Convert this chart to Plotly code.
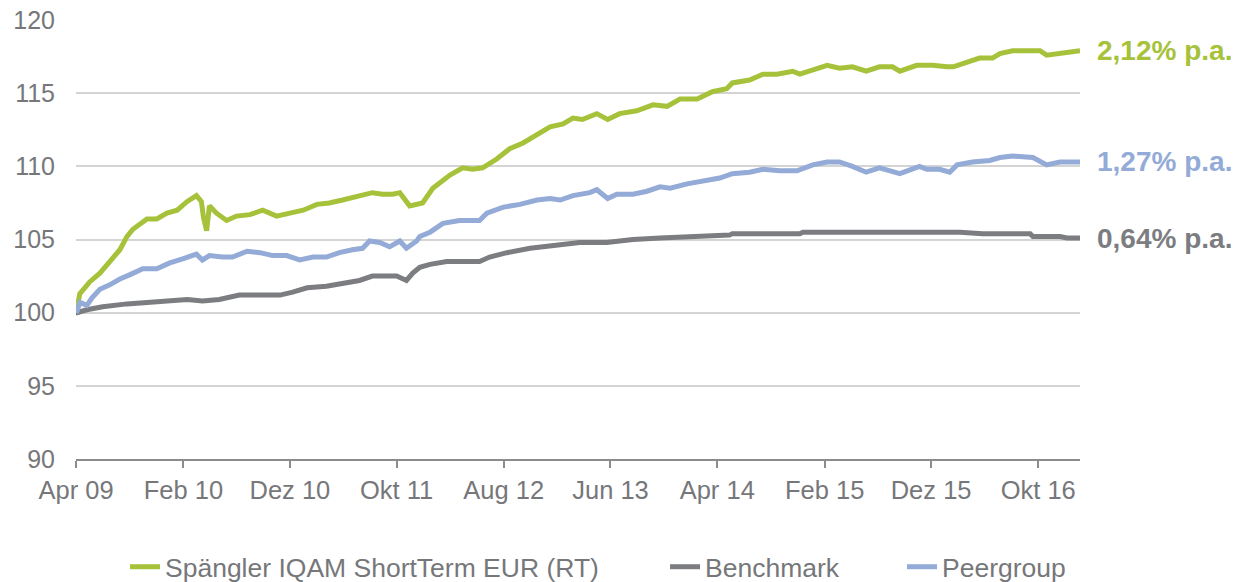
import plotly.graph_objects as go

# ---------------- data ----------------
fund_dates = ["2009-04-01","2009-04-12","2009-04-26","2009-05-10","2009-06-08","2009-07-06","2009-08-04","2009-08-24",
    "2009-09-10","2009-10-20","2009-11-17","2009-12-16","2010-01-14","2010-02-12","2010-03-10","2010-03-24","2010-03-30",
    "2010-04-08","2010-04-16","2010-05-06","2010-06-04","2010-07-02","2010-08-09","2010-09-15","2010-10-24","2010-12-01",
    "2011-01-08","2011-02-16","2011-03-23","2011-04-30","2011-06-17","2011-07-24","2011-08-22","2011-09-20","2011-10-10",
    "2011-10-24","2011-11-07","2011-12-14","2012-01-12","2012-03-01","2012-04-06","2012-05-04","2012-06-02","2012-07-12",
    "2012-08-18","2012-09-25","2012-11-04","2012-12-11","2013-01-17","2013-02-14","2013-03-13","2013-04-23","2013-05-24",
    "2013-06-27","2013-08-15","2013-09-30","2013-11-09","2013-12-16","2014-02-03","2014-03-18","2014-04-28","2014-05-14",
    "2014-07-02","2014-08-09","2014-09-18","2014-11-02","2014-11-22","2014-12-29","2015-02-08","2015-03-15","2015-04-21",
    "2015-05-30","2015-07-07","2015-08-13","2015-09-03","2015-10-21","2015-12-06","2016-01-15","2016-02-02","2016-03-11",
    "2016-04-17","2016-05-24","2016-06-14","2016-07-20","2016-10-06","2016-10-25","2016-12-02","2016-12-30","2017-01-28"]
fund_values = [100.0,101.3,101.7,102.1,102.7,103.5,104.3,105.2,
    105.7,106.4,106.4,106.8,107.0,107.6,108.0,107.6,106.5,
    105.6,107.3,106.8,106.3,106.6,106.7,107.0,106.6,106.8,
    107.0,107.4,107.5,107.7,108.0,108.2,108.1,108.1,108.2,
    107.7,107.3,107.5,108.5,109.4,109.9,109.8,109.9,110.5,
    111.2,111.6,112.2,112.7,112.9,113.3,113.2,113.6,113.2,
    113.6,113.8,114.2,114.1,114.6,114.6,115.1,115.3,115.7,
    115.9,116.3,116.3,116.5,116.3,116.6,116.9,116.7,116.8,
    116.5,116.8,116.8,116.5,116.9,116.9,116.8,116.8,117.1,
    117.4,117.4,117.7,117.9,117.9,117.6,117.7,117.8,117.9]

bench_dates = ["2009-04-01","2009-04-04","2009-05-02","2009-06-16","2009-08-24","2009-10-20","2009-12-16","2010-02-12",
    "2010-03-27","2010-05-14","2010-07-10","2010-09-07","2010-11-03","2010-12-09","2011-01-19","2011-03-15","2011-05-11",
    "2011-06-17","2011-07-24","2011-09-03","2011-10-01","2011-10-29","2011-11-16","2011-12-06","2012-01-04","2012-02-21",
    "2012-05-24","2012-06-22","2012-08-10","2012-10-15","2012-12-19","2013-03-05","2013-05-21","2013-08-04","2013-10-20",
    "2014-01-05","2014-03-18","2014-05-06","2014-05-14","2014-11-22","2014-12-01","2016-02-21","2016-04-26","2016-09-08",
    "2016-09-16","2016-12-02","2016-12-22","2017-01-28"]
bench_values = [100.0,100.0,100.2,100.4,100.6,100.7,100.8,100.9,
    100.8,100.9,101.2,101.2,101.2,101.4,101.7,101.8,102.0,
    102.2,102.5,102.5,102.5,102.2,102.7,103.1,103.3,103.5,
    103.5,103.8,104.1,104.4,104.6,104.8,104.8,105.0,105.1,
    105.2,105.3,105.3,105.4,105.4,105.5,105.5,105.4,105.4,
    105.2,105.2,105.1,105.1]

peer_dates = ["2009-04-01","2009-04-04","2009-04-12","2009-05-02","2009-05-16","2009-06-08","2009-07-06","2009-08-04",
    "2009-09-02","2009-10-08","2009-11-17","2009-12-24","2010-02-01","2010-03-10","2010-03-27","2010-04-16","2010-05-23",
    "2010-06-21","2010-08-01","2010-09-07","2010-10-13","2010-11-22","2010-12-29","2011-02-05","2011-03-15","2011-04-21",
    "2011-05-28","2011-06-26","2011-07-16","2011-08-14","2011-09-11","2011-10-01","2011-10-10","2011-10-29","2011-11-16",
    "2011-11-27","2011-12-06","2012-01-04","2012-02-10","2012-03-28","2012-05-24","2012-06-14","2012-07-29","2012-09-16",
    "2012-11-04","2012-12-11","2013-01-09","2013-02-14","2013-04-03","2013-04-23","2013-05-24","2013-06-19","2013-08-04",
    "2013-09-13","2013-10-20","2013-11-18","2014-01-05","2014-02-19","2014-03-30","2014-04-08","2014-05-14","2014-07-02",
    "2014-08-09","2014-09-26","2014-11-14","2014-12-29","2015-02-08","2015-03-15","2015-04-21","2015-05-30","2015-07-07",
    "2015-08-05","2015-09-03","2015-10-29","2015-11-19","2015-12-25","2016-01-23","2016-02-13","2016-03-28","2016-05-16",
    "2016-06-14","2016-07-20","2016-09-16","2016-10-25","2016-12-02","2017-01-28"]
peer_values = [100.0,100.1,100.7,100.5,101.0,101.6,101.9,102.3,
    102.6,103.0,103.0,103.4,103.7,104.0,103.6,103.9,103.8,
    103.8,104.2,104.1,103.9,103.9,103.6,103.8,103.8,104.1,
    104.3,104.4,104.9,104.8,104.5,104.8,104.9,104.4,104.7,
    104.9,105.2,105.5,106.1,106.3,106.3,106.8,107.2,107.4,
    107.7,107.8,107.7,108.0,108.2,108.4,107.8,108.1,108.1,
    108.3,108.6,108.5,108.8,109.0,109.1,109.2,109.5,109.6,
    109.8,109.7,109.7,110.1,110.3,110.3,110.0,109.6,109.9,
    109.7,109.5,110.0,109.8,109.8,109.6,110.1,110.3,110.4,
    110.6,110.7,110.6,110.1,110.3,110.3]

series_names = ["Spängler IQAM ShortTerm EUR (RT)", "Benchmark", "Peergroup"]
pa_labels = ["2,12% p.a.", "0,64% p.a.", "1,27% p.a."]

tick_dates = ["2009-04-01","2010-02-01","2010-12-01","2011-10-01","2012-08-01",
              "2013-06-01","2014-04-01","2015-02-01","2015-12-01","2016-10-01"]
tick_labels = ["Apr 09","Feb 10","Dez 10","Okt 11","Aug 12","Jun 13","Apr 14","Feb 15","Dez 15","Okt 16"]
y_ticks = [90, 95, 100, 105, 110, 115, 120]

# ---------------- style ----------------
GREEN = "#A6C23B"
GRAY = "#7B7D81"
BLUE = "#93ABD6"
TEXT = "#76777A"
FONT = "Liberation Sans, Arial, sans-serif"
legend_x = [0.0488, 0.5867, 0.8227]
legend_ids = ["legend", "legend2", "legend3"]

fig = go.Figure()
data = [(fund_dates, fund_values, GREEN), (bench_dates, bench_values, GRAY), (peer_dates, peer_values, BLUE)]
for (d, v, c), name, lid in zip(data, series_names, legend_ids):
    fig.add_trace(go.Scatter(x=d, y=v, mode="lines", name=name, legend=lid,
                             line=dict(color=c, width=5)))

for (d, v, c), lab in zip(data, pa_labels):
    fig.add_annotation(x=1.0149, xref="paper", y=v[-1], yref="y", text="<b>%s</b>" % lab,
                       showarrow=False, xanchor="left", yanchor="middle",
                       font=dict(family=FONT, size=28, color=c))

leg_common = dict(orientation="h", xanchor="left", y=-0.246, yanchor="middle",
                  font=dict(family=FONT, size=26.5, color=TEXT), bgcolor="rgba(0,0,0,0)",
                  borderwidth=0)
fig.update_layout(
    width=1240, height=582,
    margin=dict(l=76, r=160, t=20, b=123, autoexpand=False),
    plot_bgcolor="white", paper_bgcolor="white",
    font=dict(family=FONT, size=25, color=TEXT),
    showlegend=True,
    legend=dict(x=legend_x[0], **leg_common),
    legend2=dict(x=legend_x[1], **leg_common),
    legend3=dict(x=legend_x[2], **leg_common),
)
fig.update_xaxes(
    type="date", range=["2009-04-01", "2017-01-28"],
    tickvals=tick_dates, ticktext=tick_labels,
    showgrid=False, showline=True, linecolor="#8C8C8C", linewidth=2,
    ticks="outside", ticklen=7, tickwidth=2, tickcolor="#8C8C8C",
    tickfont=dict(family=FONT, size=25.5, color=TEXT), zeroline=False,
    automargin=False,
)
fig.update_yaxes(
    range=[90, 120], tickvals=y_ticks,
    showgrid=True, gridcolor="#D4D4D4", gridwidth=2,
    showline=False, zeroline=False, ticks="",
    ticklabelstandoff=20, automargin=False,
    tickfont=dict(family=FONT, size=25, color=TEXT),
)

fig.write_html("out.html", config={"displayModeBar": False},
               post_script="document.body.style.margin='0';document.body.style.overflow='hidden';")
